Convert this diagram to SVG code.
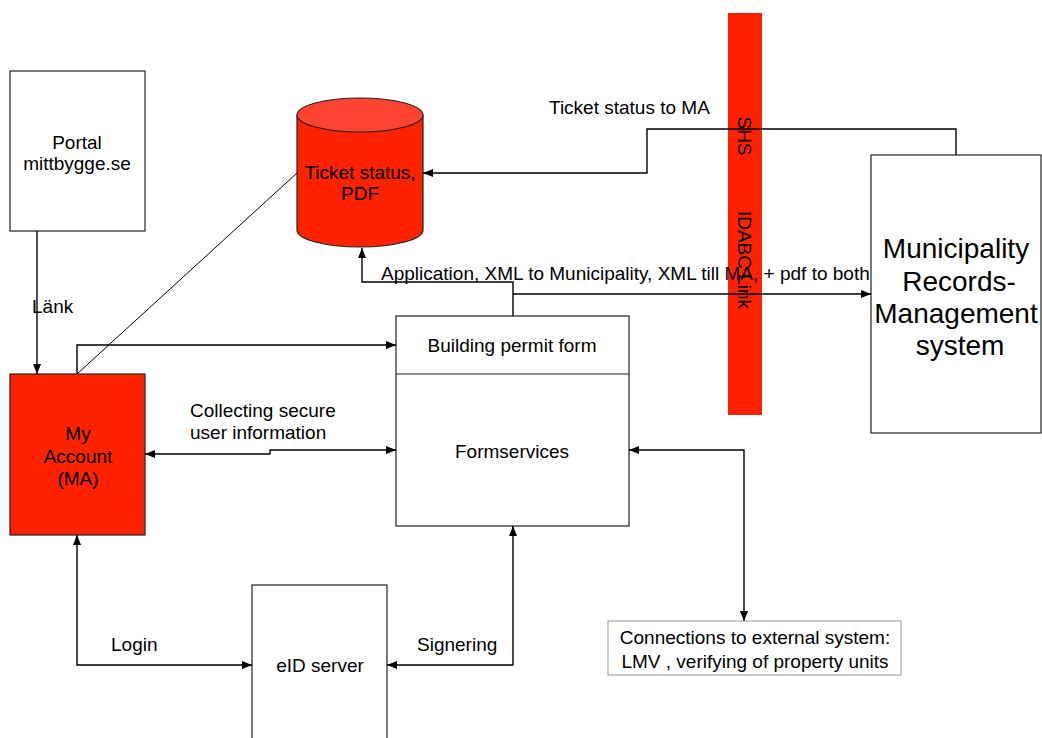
<svg xmlns="http://www.w3.org/2000/svg" width="1042" height="738" viewBox="0 0 1042 738">
<style>
text{font-family:"Liberation Sans",Arial,sans-serif;font-size:19px;fill:#000}
.box{fill:#fff;stroke:#222;stroke-width:1.2}
.red{fill:#FF2200;stroke:#222;stroke-width:1.2}
.c{text-anchor:middle}
.ln{fill:none;stroke:#000;stroke-width:1.4}
.thin{fill:none;stroke:#000;stroke-width:1}
</style>
<defs>
<marker id="a" viewBox="0 0 10 10" refX="10" refY="5" markerWidth="10" markerHeight="10" markerUnits="userSpaceOnUse" orient="auto-start-reverse">
<path d="M0,1 L10,5 L0,9 z" fill="#000"/>
</marker>
</defs>
<rect id="bar" x="728" y="13" width="34" height="402" fill="#FF2200"/>
<g id="portal">
<rect class="box" x="10" y="71" width="135" height="160"/>
<text class="c" x="77" y="149">Portal</text>
<text class="c" x="77" y="170">mittbygge.se</text>
</g>
<g id="myaccount">
<rect class="red" x="10" y="374" width="135" height="161"/>
<text class="c" x="78" y="440">My</text>
<text class="c" x="78" y="463">Account</text>
<text class="c" x="78" y="485">(MA)</text>
</g>
<g id="ticketdb">
<path class="red" d="M297,115 L297,230 A63,17 0 0 0 423,230 L423,115"/>
<ellipse cx="360" cy="115" rx="63" ry="17" fill="#FF4433" stroke="#222" stroke-width="1.2"/>
<text class="c" x="360" y="179">Ticket status,</text>
<text class="c" x="360" y="200">PDF</text>
</g>
<g id="formservices">
<rect class="box" x="396" y="316" width="233" height="210"/>
<line x1="396" y1="374" x2="629" y2="374" stroke="#222" stroke-width="1.2"/>
<text class="c" x="512" y="352">Building permit form</text>
<text class="c" x="512" y="458">Formservices</text>
</g>
<g id="municipality">
<rect class="box" x="871" y="155" width="170" height="278"/>
<text class="c" x="956" y="258" style="font-size:28px">Municipality</text>
<text class="c" x="959" y="291" style="font-size:28px">Records-</text>
<text class="c" x="956" y="323" style="font-size:28px">Management</text>
<text class="c" x="960" y="355" style="font-size:28px">system</text>
</g>
<g id="eid">
<rect class="box" x="252" y="585" width="135" height="160"/>
<text class="c" x="320" y="672">eID server</text>
</g>
<g id="external">
<rect x="608" y="621" width="293" height="54" fill="#fff" stroke="#999" stroke-width="1"/>
<text class="c" x="755" y="644">Connections to external system:</text>
<text class="c" x="755" y="668">LMV , verifying of property units</text>
</g>
<g id="connectors">
<path class="ln" d="M37,231 L37,374" marker-end="url(#a)"/>
<path class="ln" d="M77,374 L77,345 L396,345" marker-end="url(#a)"/>
<path class="thin" d="M77,374 L297,173"/>
<path class="ln" d="M956,155 L956,129 L647,129 L647,173 L423,173" marker-end="url(#a)"/>
<path class="ln" d="M513,316 L513,282 L362,282 L362,248" marker-end="url(#a)"/>
<path class="ln" d="M513,294 L871,294" marker-end="url(#a)"/>
<path class="ln" d="M145,454 L270,454 L270,450 L396,450" marker-start="url(#a)" marker-end="url(#a)"/>
<path class="ln" d="M77,535 L77,665 L252,665" marker-start="url(#a)" marker-end="url(#a)"/>
<path class="ln" d="M513,526 L513,665 L387,665" marker-start="url(#a)" marker-end="url(#a)"/>
<path class="ln" d="M629,450 L744,450 L744,621" marker-start="url(#a)" marker-end="url(#a)"/>
</g>
<g id="labels">
<text x="32" y="313">Länk</text>
<text x="549" y="114">Ticket status to MA</text>
<text x="381" y="280">Application, XML to Municipality, XML till MA, + pdf to both</text>
<text x="190" y="417">Collecting secure</text>
<text x="190" y="439">user information</text>
<text x="111" y="651">Login</text>
<text x="417" y="651">Signering</text>
<text transform="translate(738,136) rotate(90)" class="c">SHS</text>
<text transform="translate(738,260) rotate(90)" class="c">IDABC Link</text>
</g>
</svg>
